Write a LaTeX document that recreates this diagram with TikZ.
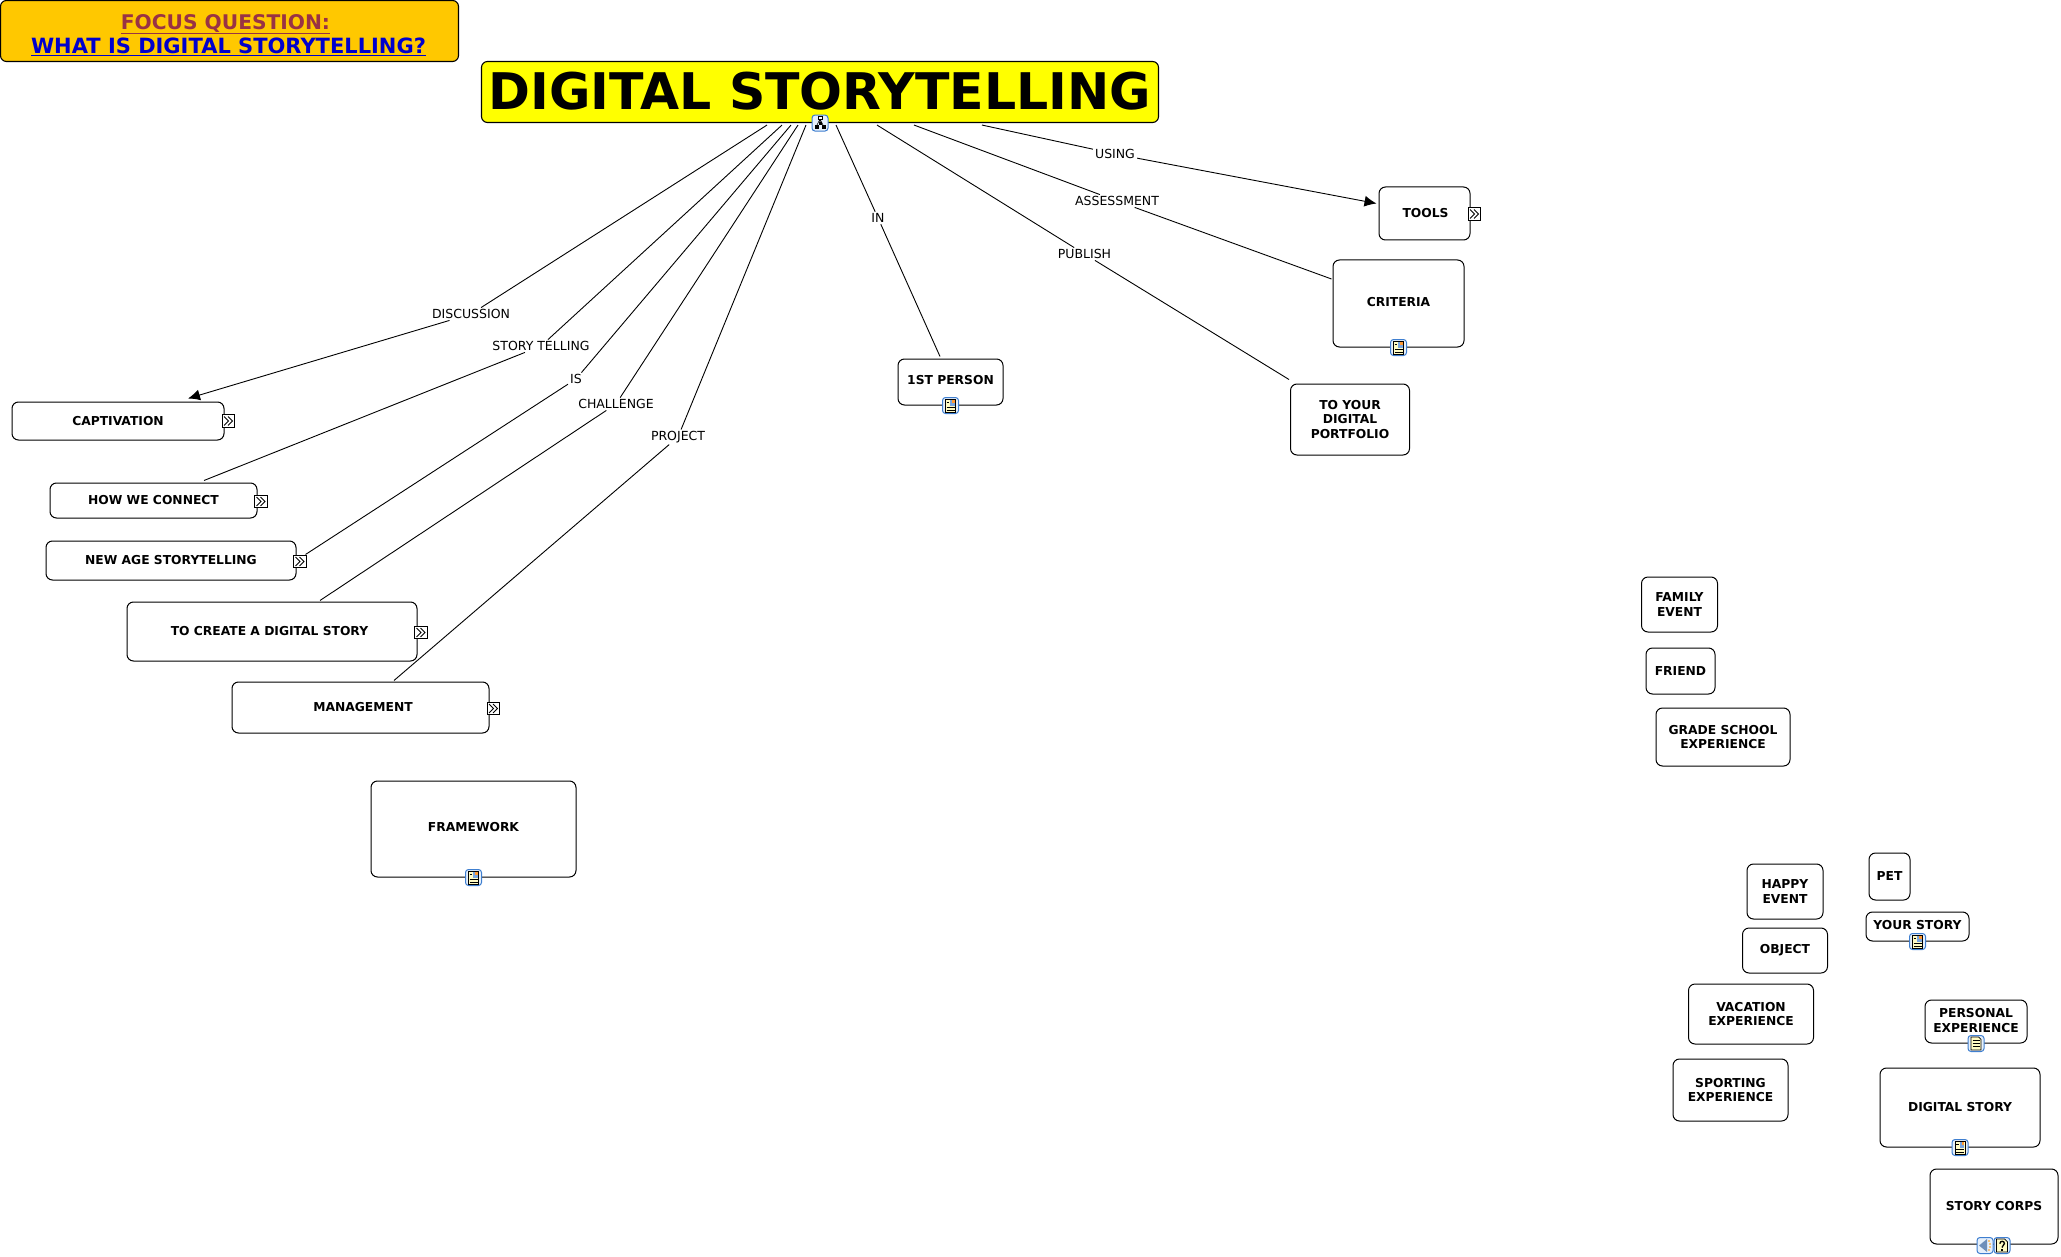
\documentclass[tikz,border=0pt]{standalone}
\usepackage{fontspec}
\setmainfont{DejaVu Sans}
\usetikzlibrary{arrows.meta,calc}
\definecolor{focusbg}{HTML}{FFC800}
\definecolor{focusred}{HTML}{993344}
\definecolor{focusblue}{HTML}{0000CC}
\definecolor{titlebg}{HTML}{FFFF00}
\definecolor{iconblue}{HTML}{3F7FD0}
\definecolor{iconbg}{HTML}{E6F0FB}
\definecolor{paper}{HTML}{FFFBC4}
\newcommand{\up}[2]{\raisebox{#1pt}{#2}}
\tikzset{
  concept/.style={draw=black,line width=1pt,rounded corners=6.5pt,fill=white,inner sep=0pt,align=center,
    font=\fontsize{12.3}{14.5}\selectfont\bfseries},
  rel/.style={fill=white,inner xsep=2pt,inner ysep=1.5pt,font=\fontsize{12.5}{14}\selectfont},
  link/.style={line width=.9pt,draw=black},
  arrowlink/.style={link,-{Latex[length=12pt,width=11pt]}},
  iconbase/.style={draw=iconblue,fill=iconbg,line width=1pt,rounded corners=3pt},
  chevicon/.pic={
    \draw[fill=white,line width=1pt] (-6.2,-6.2) rectangle (6.2,6.2);
    \draw[line width=1pt] (-4.5,-4.5) -- (0,0) -- (-4.5,4.5);
    \draw[line width=1pt] (-.5,-4.5) -- (4,0) -- (-.5,4.5);
  },
  noteicon/.pic={
    \draw[iconbase] (-8,-8) rectangle (8,8);
    \draw[fill=paper,line width=.7pt] (-5,-6.5) rectangle (5,6.5);
    \fill[fill=iconblue!70] (-.5,-5.5) rectangle (4,.2);
    \fill[fill=orange!80] (1.5,-5.5) rectangle (4,-3);
    \draw[line width=.5pt] (-4,-3) -- (-1.5,-3);
    \foreach \q in {2.2,4.4}{\draw[line width=.5pt] (-4,\q) -- (4,\q);}
  },
  docicon/.pic={
    \draw[iconbase] (-8,-8) rectangle (8,8);
    \draw[fill=paper,line width=.7pt] (-5,-6.5) -- (2.5,-6.5) -- (5,-4) -- (5,6.5) -- (-5,6.5) -- cycle;
    \foreach \q in {-3,0,3}{\draw[line width=.5pt] (-3.5,\q) -- (3.5,\q);}
  },
  mapicon/.pic={
    \draw[iconbase] (-8,-8) rectangle (8,8);
    \draw[line width=.6pt] (0,-4) -- (-3.5,3) (0,-4) -- (3.5,3) (0,-4) -- (0,1);
    \draw[fill=white,line width=.8pt] (-2,-6.5) rectangle (2,-3.5);
    \fill (-5.5,1.5) rectangle (-1.5,5.5);
    \fill (1.5,1.5) rectangle (5.5,5.5);
    \fill (-1.5,-1) rectangle (1.5,1.5);
  },
  soundicon/.pic={
    \draw[iconbase] (-8,-8) rectangle (8,8);
    \fill[fill=iconblue!75!black!70] (-6,0) -- (2,-6.5) -- (2,6.5) -- cycle;
    \fill[fill=orange!85!yellow] (4,-4.5) circle (.9) (5,-1.5) circle (.9) (5,1.5) circle (.9) (4,4.5) circle (.9);
  },
  helpicon/.pic={
    \draw[iconbase] (-8,-8) rectangle (8,8);
    \draw[fill=paper,line width=.7pt] (-5.5,-6.5) -- (2.5,-6.5) -- (5.5,-3.5) -- (5.5,6.5) -- (-5.5,6.5) -- cycle;
    \draw[line width=1.3pt] (-2.2,-1.8) .. controls (-2.2,-5) and (2.6,-5) .. (2.4,-1.8) .. controls (2.3,-.2) and (0,0) .. (0,2);
    \fill (-1,3.2) rectangle (1,5.2);
  },
}
\begin{document}
\begin{tikzpicture}[x=1pt,y=-1pt]
\useasboundingbox[fill=white] (0,0) rectangle (2061,1257);

% title nodes
\node[draw=black,line width=1.1pt,rounded corners=6pt,fill=focusbg,inner sep=0pt,minimum width=458pt,minimum height=61pt,align=center,
  font=\fontsize{21}{24}\selectfont\bfseries] (focus) at (229.5,31)
  {\rule{0pt}{23pt}{\fontsize{20.2}{24}\selectfont\textcolor{focusred}{\underline{FOCUS QUESTION:}}}\hspace*{8pt}\\\textcolor{focusblue}{\underline{WHAT IS DIGITAL STORYTELLING?}}\hspace*{2pt}};
\node[draw=black,line width=1.1pt,rounded corners=6pt,fill=titlebg,inner sep=0pt,minimum width=677pt,minimum height=61pt,
  font=\fontsize{50.5}{54}\selectfont\bfseries] (main) at (820,92) {\up{1.5}{DIGITAL STORYTELLING}};

% concepts
\node[concept,minimum width=212pt,minimum height=38pt] (cap) at (118,421) {CAPTIVATION};
\node[concept,minimum width=207pt,minimum height=35pt] (how) at (153.5,500.5) {HOW WE CONNECT};
\node[concept,minimum width=250pt,minimum height=39pt] (newage) at (171,560.5) {NEW AGE STORYTELLING};
\node[concept,minimum width=290pt,minimum height=59pt] (create) at (272,631.5) {TO CREATE A DIGITAL STORY\hspace*{5pt}};
\node[concept,minimum width=257pt,minimum height=51pt] (mgmt) at (360.5,707.5) {\hspace*{5pt}\up{-1}{MANAGEMENT}};
\node[concept,minimum width=205pt,minimum height=96pt] (frame) at (473.5,829) {\up{5}{FRAMEWORK}};
\node[concept,minimum width=105pt,minimum height=46pt] (first) at (950.5,382) {\up{5}{1ST PERSON}};
\node[concept,minimum width=91pt,minimum height=53pt] (tools) at (1424.5,213.5) {\hspace*{2pt}TOOLS};
\node[concept,minimum width=131pt,minimum height=87pt] (crit) at (1398.5,303.5) {\up{3}{CRITERIA}};
\node[concept,minimum width=119pt,minimum height=71pt] (port) at (1350,419.5) {TO YOUR\\DIGITAL\\PORTFOLIO};
\node[concept,minimum width=76pt,minimum height=55pt] (family) at (1679.5,604.5) {FAMILY\\EVENT};
\node[concept,minimum width=69pt,minimum height=46pt] (friend) at (1680.5,671) {FRIEND};
\node[concept,minimum width=134pt,minimum height=58pt] (grade) at (1723,737) {GRADE SCHOOL\\EXPERIENCE};
\node[concept,minimum width=76pt,minimum height=55pt] (happy) at (1785,891.5) {HAPPY\\EVENT};
\node[concept,minimum width=85pt,minimum height=45pt] (object) at (1785,950.5) {\up{-2.5}{OBJECT}};
\node[concept,minimum width=125pt,minimum height=60pt] (vac) at (1751,1014) {VACATION\\EXPERIENCE};
\node[concept,minimum width=115pt,minimum height=62pt] (sport) at (1730.5,1090) {SPORTING\\EXPERIENCE};
\node[concept,minimum width=41pt,minimum height=47pt] (pet) at (1889.5,876.5) {\up{-2}{PET}};
\node[concept,minimum width=103pt,minimum height=29pt] (your) at (1917.5,926.5) {\up{3}{YOUR STORY}};
\node[concept,minimum width=102pt,minimum height=43pt] (pers) at (1976,1021.5) {\up{2}{PERSONAL}\\\up{2}{EXPERIENCE}};
\node[concept,minimum width=160pt,minimum height=79pt] (dig) at (1960,1107.5) {\up{-1}{DIGITAL STORY}};
\node[concept,minimum width=128pt,minimum height=75pt] (corps) at (1994,1206.5) {\up{2}{STORY CORPS}};

% relation labels
\node[rel] (ldisc) at (471,314) {DISCUSSION};
\node[rel] (lstory) at (541,346) {STORY TELLING};
\node[rel] (lis) at (576,379) {IS};
\node[rel] (lchal) at (616,404) {CHALLENGE};
\node[rel] (lproj) at (678,437) {PROJECT};
\node[rel] (lin) at (878,218) {IN};
\node[rel] (lpub) at (1084.5,254) {PUBLISH};
\node[rel] (lass) at (1117,201) {ASSESSMENT};
\node[rel] (lusing) at (1115,154) {USING};

% connectors
\draw[link] ($(main.south)+(-53,2)$) -- (ldisc);
\draw[arrowlink] (ldisc) -- ($(cap.north)+(70,-3)$);
\draw[link] ($(main.south)+(-38,2)$) -- (lstory);
\draw[link] (lstory) -- ($(how.north)+(50.5,-2)$);
\draw[link] ($(main.south)+(-29,2)$) -- (lis);
\draw[link] (lis) -- ($(newage.east)+(9,-6)$);
\draw[link] ($(main.south)+(-22,2)$) -- (lchal);
\draw[link] (lchal) -- ($(create.north)+(48,-1)$);
\draw[link] ($(main.south)+(-14,2)$) -- (lproj);
\draw[link] (lproj) -- ($(mgmt.north)+(33.5,-1)$);
\draw[link] ($(main.south)+(16,2)$) -- (lin);
\draw[link] (lin) -- ($(first.north)+(-10.5,-2)$);
\draw[link] ($(main.south)+(57,2)$) -- (lpub);
\draw[link] (lpub) -- ($(port.north)+(-61,-4)$);
\draw[link] ($(main.south)+(94,2)$) -- (lass);
\draw[link] (lass) -- ($(crit.west)+(-1,-24.5)$);
\draw[link] ($(main.south)+(162,2)$) -- (lusing);
\draw[arrowlink] (lusing) -- ($(tools.west)+(-2,-10)$);

% icons
\pic at ($(cap.east)+(4,0)$) {chevicon};
\pic at ($(how.east)+(3.5,1)$) {chevicon};
\pic at ($(newage.east)+(3.5,1)$) {chevicon};
\pic at ($(create.east)+(3.5,1)$) {chevicon};
\pic at ($(mgmt.east)+(4,1)$) {chevicon};
\pic at ($(tools.east)+(4,.5)$) {chevicon};
\pic at (main.south) {mapicon};
\pic at (first.south) {noteicon};
\pic at (crit.south) {noteicon};
\pic at (frame.south) {noteicon};
\pic at (your.south) {noteicon};
\pic at (dig.south) {noteicon};
\pic at (pers.south) {docicon};
\pic at ($(corps.south)+(-9,1)$) {soundicon};
\pic at ($(corps.south)+(8,1)$) {helpicon};
\end{tikzpicture}
\end{document}
